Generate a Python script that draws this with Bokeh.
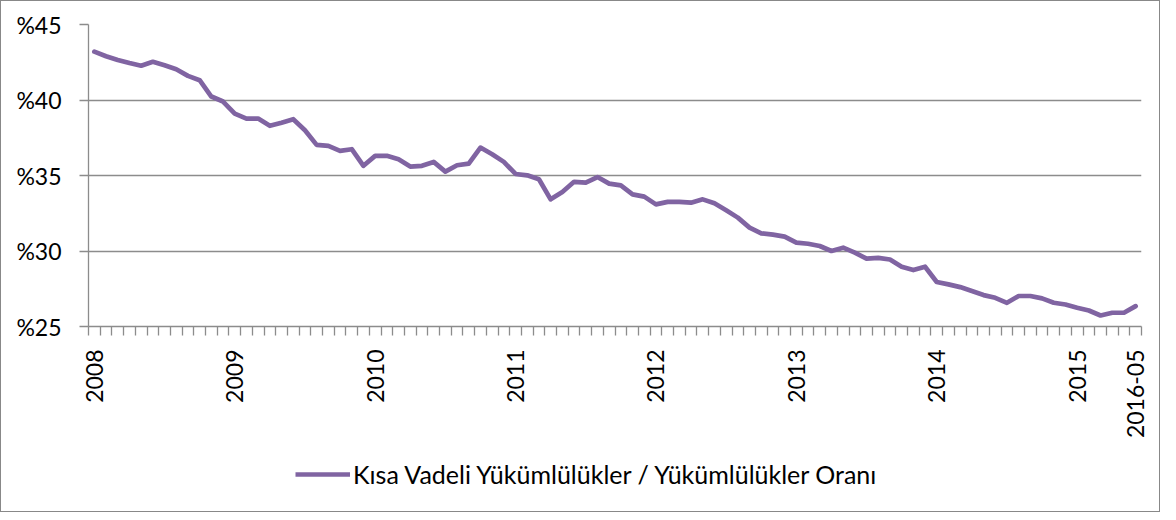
import math
from bokeh.plotting import figure
from bokeh.layouts import column
from bokeh.models import ColumnDataSource, Range1d, FixedTicker, Legend, LegendItem
from bokeh.embed import file_html
from bokeh.resources import INLINE

# ---- data -------------------------------------------------------------
ratio = [
    43.2, 42.9, 42.65, 42.45, 42.27, 42.53, 42.3, 42.04, 41.6, 41.31,
    40.23, 39.9, 39.1, 38.77, 38.77, 38.29, 38.5, 38.73, 38.0, 37.03,
    36.96, 36.63, 36.74, 35.64, 36.3, 36.3, 36.07, 35.59, 35.64, 35.9,
    35.26, 35.68, 35.79, 36.85, 36.41, 35.9, 35.1, 35.01, 34.75, 33.42,
    33.91, 34.58, 34.53, 34.9, 34.46, 34.35, 33.75, 33.6, 33.09, 33.25,
    33.25, 33.2, 33.42, 33.16, 32.7, 32.21, 31.55, 31.17, 31.08, 30.95,
    30.55, 30.48, 30.33, 30.0, 30.22, 29.89, 29.49, 29.54, 29.44, 28.96,
    28.74, 28.96, 27.95, 27.79, 27.61, 27.35, 27.08, 26.9, 26.57, 27.02,
    27.02, 26.86, 26.57, 26.46, 26.24, 26.06, 25.73, 25.91, 25.91, 26.35,
]
period_index = list(range(len(ratio)))
x_tick_labels = ["2008", "2009", "2010", "2011", "2012", "2013", "2014", "2015", "2016-05"]
x_tick_index = [0, 12, 24, 36, 48, 60, 72, 84, 89]
y_ticks = [25, 30, 35, 40, 45]
y_tick_labels = ["%25", "%30", "%35", "%40", "%45"]
series_name = "Kısa Vadeli Yükümlülükler / Yükümlülükler Oranı"

FONT = "Lato"
GRID = "#8c8c8c"
PURPLE = "#8064A2"

src = ColumnDataSource(dict(x=period_index, y=ratio))

p = figure(
    width=1158, height=455,
    x_range=Range1d(-0.5, len(ratio) - 0.5),
    y_range=Range1d(25, 45),
    output_backend="svg", toolbar_location=None,
    min_border_left=87, min_border_right=18, min_border_top=23, min_border_bottom=130,
)
p.outline_line_color = None
p.background_fill_color = "white"
p.border_fill_color = "white"

r = p.line("x", "y", source=src, line_color=PURPLE, line_width=4.7,
           line_join="round", line_cap="round")

# y axis
p.yaxis.ticker = FixedTicker(ticks=y_ticks)
p.yaxis.major_label_overrides = {t: l for t, l in zip(y_ticks, y_tick_labels)}
p.yaxis.axis_line_color = GRID
p.yaxis.axis_line_width = 1.3
p.yaxis.major_tick_line_color = GRID
p.yaxis.major_tick_line_width = 1.3
p.yaxis.major_tick_out = 9
p.yaxis.major_tick_in = 0
p.yaxis.minor_tick_line_color = None
p.yaxis.major_label_standoff = 18
p.yaxis.major_label_text_font = FONT
p.yaxis.major_label_text_font_size = "23px"
p.yaxis.major_label_text_color = "black"

# x axis
p.xaxis.ticker = FixedTicker(ticks=x_tick_index,
                             minor_ticks=[i - 0.5 for i in range(len(ratio) + 1)])
p.xaxis.major_label_overrides = {t: l for t, l in zip(x_tick_index, x_tick_labels)}
p.xaxis.axis_line_color = GRID
p.xaxis.axis_line_width = 1.3
p.xaxis.major_tick_line_color = None
p.xaxis.major_tick_out = 0
p.xaxis.major_tick_in = 0
p.xaxis.minor_tick_line_color = GRID
p.xaxis.minor_tick_line_width = 1.3
p.xaxis.minor_tick_out = 9
p.xaxis.minor_tick_in = 0
p.xaxis.major_label_orientation = math.pi / 2
p.xaxis.major_label_standoff = 14
p.xaxis.major_label_text_font = FONT
p.xaxis.major_label_text_font_size = "23px"
p.xaxis.major_label_text_color = "black"

# grid
p.xgrid.grid_line_color = None
p.ygrid.ticker = FixedTicker(ticks=y_ticks)
p.ygrid.grid_line_color = GRID
p.ygrid.grid_line_width = 1.3

# ---- legend strip (same series, hidden, only used for the legend key) ----
p2 = figure(
    width=1158, height=55, x_range=p.x_range, y_range=p.y_range,
    x_axis_type=None, y_axis_type=None,
    output_backend="svg", toolbar_location=None,
    min_border_left=0, min_border_right=0, min_border_top=0, min_border_bottom=0,
)
p2.outline_line_color = None
p2.xgrid.grid_line_color = None
p2.ygrid.grid_line_color = None
p2.background_fill_color = "white"
p2.border_fill_color = "white"
r2 = p2.line("x", "y", source=src, line_color=PURPLE, line_width=4.7, visible=False)

legend = Legend(
    items=[LegendItem(label=series_name, renderers=[r2])],
    location=(207, 22), orientation="horizontal",
    border_line_color=None, background_fill_alpha=0,
    label_text_font=FONT, label_text_font_size="25px", label_text_color="black",
    glyph_width=55, glyph_height=20, label_standoff=3, padding=0, margin=0,
)
p2.add_layout(legend)

layout = column(p, p2, spacing=0)
layout.styles = {"border": "1px solid #888888"}

open("out.html", "w").write(file_html(layout, INLINE))
